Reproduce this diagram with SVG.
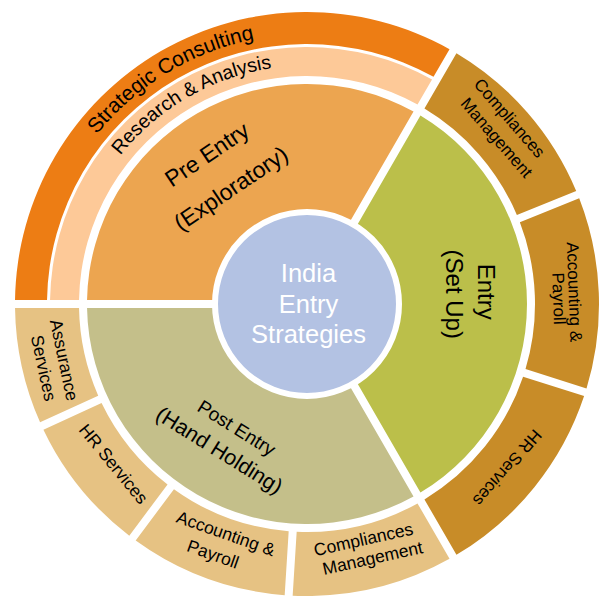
<svg xmlns="http://www.w3.org/2000/svg" width="607" height="596" viewBox="0 0 607 596">
<style>
.t{font-family:"Liberation Sans",Arial,sans-serif;fill:#000;text-anchor:middle}
.strat{fill:#ED7D14}.res{fill:#FDC998}.pre{fill:#ECA550}.ent{fill:#BBBF4A}.post{fill:#C4BF8A}.gold{fill:#C88C28}.tan{fill:#E6C283}
</style>
<defs>
<path id="arcStrat" d="M 37 304 A 270 270 0 0 1 442 70.17"/>
<path id="arcRes" d="M 68.5 304 A 238.5 238.5 0 0 1 426.25 97.46"/>
</defs>
<rect width="607" height="596" fill="#fff"/>
<g id="strategic-consulting">
<path class="strat" d="M 15.03 300 A 292 292 0 0 1 449.52 49.14 L 433.52 76.86 A 260 260 0 0 0 47.03 300 Z"/>
<text class="t" font-size="21"><textPath href="#arcStrat" startOffset="49%">Strategic Consulting</textPath></text>
</g>
<g id="research-analysis">
<path class="res" d="M 50.03 300 A 257 257 0 0 1 432.02 79.46 L 417.52 104.58 A 228 228 0 0 0 79.03 300 Z"/>
<text class="t" font-size="19.5"><textPath href="#arcRes" startOffset="50%">Research &amp; Analysis</textPath></text>
</g>
<g id="pre-entry">
<path class="pre" d="M 87.04 300 A 220 220 0 0 1 413.52 111.51 L 343.49 232.80 A 80 80 0 0 0 227.1 300 Z"/>
<text class="t" font-size="23" transform="translate(211.4,161) rotate(-34)">Pre Entry</text>
<text class="t" font-size="23" transform="translate(235.4,195) rotate(-34)">(Exploratory)</text>
</g>
<g id="entry">
<path class="ent" d="M 420.45 115.51 A 220 220 0 0 1 420.45 492.49 L 350.41 371.20 A 80 80 0 0 0 350.41 236.80 Z"/>
<text class="t" font-size="24" transform="translate(477.8,291.7) rotate(90)">Entry</text>
<text class="t" font-size="24" transform="translate(445.5,294.2) rotate(90)">(Set Up)</text>
</g>
<g id="post-entry">
<path class="post" d="M 413.52 496.49 A 220 220 0 0 1 87.04 308 L 227.1 308 A 80 80 0 0 0 343.49 375.20 Z"/>
<text class="t" font-size="19" transform="translate(233.2,433.5) rotate(32)">Post Entry</text>
<text class="t" font-size="21.5" transform="translate(215.5,456.5) rotate(32)">(Hand Holding)</text>
</g>
<g id="entry-compliances">
<path class="gold" d="M 456.45 53.14 A 292 292 0 0 1 576.21 190.92 L 516.87 214.89 A 228 228 0 0 0 424.45 108.58 Z"/>
<text class="t" font-size="17" transform="translate(505.2,121.9) rotate(49)">Compliances</text>
<text class="t" font-size="17" transform="translate(492.2,141.4) rotate(49)">Management</text>
</g>
<g id="entry-accounting">
<path class="gold" d="M 579.21 198.33 A 292 292 0 0 1 586.52 388.47 L 525.50 369.12 A 228 228 0 0 0 519.86 222.31 Z"/>
<text class="t" font-size="17" transform="translate(568.6,292.2) rotate(88)">Accounting &amp;</text>
<text class="t" font-size="17" transform="translate(553.1,298.7) rotate(88)">Payroll</text>
</g>
<g id="entry-hr">
<path class="gold" d="M 584.10 396.10 A 292 292 0 0 1 456.45 554.86 L 424.45 499.42 A 228 228 0 0 0 523.08 376.74 Z"/>
<text class="t" font-size="17" transform="translate(502.9,464) rotate(131)">HR Services</text>
</g>
<g id="post-compliances">
<path class="tan" d="M 449.52 558.86 A 292 292 0 0 1 292.66 595.65 L 296.68 531.77 A 228 228 0 0 0 417.52 503.42 Z"/>
<text class="t" font-size="17.5" transform="translate(364.7,545.2) rotate(-12.5)">Compliances</text>
<text class="t" font-size="17.5" transform="translate(373.8,563.9) rotate(-12.5)">Management</text>
</g>
<g id="post-accounting">
<path class="tan" d="M 284.68 595.15 A 292 292 0 0 1 135.69 540.50 L 173.95 489.18 A 228 228 0 0 0 288.69 531.26 Z"/>
<text class="t" font-size="17.5" transform="translate(223.8,539.1) rotate(19.5)">Accounting &amp;</text>
<text class="t" font-size="17.5" transform="translate(211,559.8) rotate(19.5)">Payroll</text>
</g>
<g id="post-hr">
<path class="tan" d="M 129.28 535.72 A 292 292 0 0 1 43.41 429.64 L 101.56 402.89 A 228 228 0 0 0 167.54 484.40 Z"/>
<text class="t" font-size="17.5" transform="translate(108.9,467.8) rotate(50.5)">HR Services</text>
</g>
<g id="post-assurance">
<path class="tan" d="M 40.07 422.37 A 292 292 0 0 1 15.03 308 L 79.03 308 A 228 228 0 0 0 98.22 395.63 Z"/>
<text class="t" font-size="17.5" transform="translate(58.3,361.3) rotate(78)">Assurance</text>
<text class="t" font-size="17.5" transform="translate(37.8,369.3) rotate(78)">Services</text>
</g>
<g id="center">
<circle cx="307" cy="304" r="92" fill="#B3C2E3" stroke="#fff" stroke-width="6"/>
<text class="t" font-size="25.5" fill="#fff" style="fill:#fff" x="308.5" y="282">India</text>
<text class="t" font-size="25.5" style="fill:#fff" x="308.5" y="312.5">Entry</text>
<text class="t" font-size="25.5" style="fill:#fff" x="308.5" y="342.5">Strategies</text>
</g>
<g id="connectors"></g>
</svg>
